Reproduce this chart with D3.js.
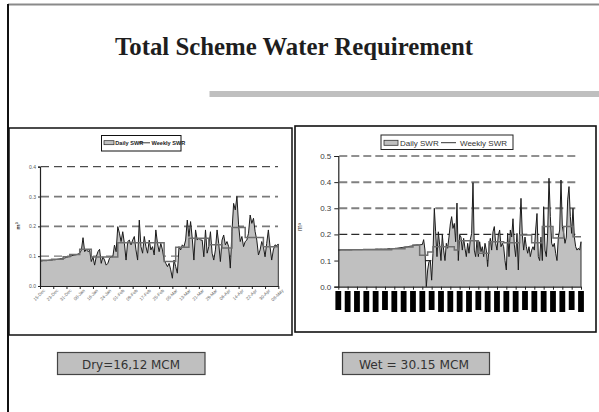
<!DOCTYPE html>
<html>
<head>
<meta charset="utf-8">
<script src="https://cdn.jsdelivr.net/npm/d3@7"></script>
<style>
  html, body { margin: 0; padding: 0; background: #fff; }
  svg { display: block; }
</style>
</head>
<body>
<svg id="slide" width="599" height="412"></svg>
<script>
// ---------- Dry season: daily and weekly scheme water requirement (m3/s) ----------
const dryDaily = [
  0.084,0.084,0.085,0.085,0.085,0.086,0.087,0.087,0.088,0.088,0.089,0.090,0.091,0.092,0.093,0.094,0.096,0.098,0.100,0.101,0.103,0.104,0.105,0.107,
  0.110,0.120,0.162,0.115,0.123,0.115,0.120,0.082,0.098,0.070,0.098,0.115,0.123,0.076,0.098,0.087,0.070,0.076,0.093,0.098,0.098,0.137,0.115,0.199,
  0.177,0.149,0.182,0.143,0.087,0.149,0.154,0.138,0.154,0.166,0.121,0.087,0.221,0.132,0.110,0.166,0.132,0.110,0.154,0.121,0.132,0.104,0.188,0.143,
  0.115,0.143,0.121,0.087,0.076,0.065,0.076,0.054,0.026,0.087,0.065,0.043,0.132,0.121,0.138,0.132,0.154,0.221,0.166,0.216,0.160,0.087,0.188,0.154,
  0.160,0.154,0.154,0.098,0.188,0.110,0.132,0.182,0.110,0.087,0.121,0.188,0.143,0.082,0.154,0.171,0.138,0.149,0.132,0.060,0.182,0.277,0.255,0.300,
  0.205,0.149,0.166,0.132,0.149,0.154,0.177,0.238,0.210,0.227,0.182,0.154,0.104,0.121,0.149,0.132,0.098,0.143,0.188,0.132,0.087,0.121,0.138,0.135,0.141
];
const dryWeeklyStart = [0, 7, 14, 18, 24, 31, 47, 75, 82, 90, 102, 110, 116, 124, 135];
const dryWeeklyValue = [0.086, 0.090, 0.098, 0.106, 0.123, 0.097, 0.145, 0.082, 0.130, 0.160, 0.138, 0.127, 0.196, 0.163, 0.132];
const dryTickDays = [0, 8, 16, 24, 32, 40, 48, 56, 64, 72, 80, 88, 96, 104, 112, 120, 128, 136, 144];
const dryTickLabels = ["15-Dec","23-Dec","31-Dec","08-Jan","16-Jan","24-Jan","01-Feb","09-Feb","17-Feb","25-Feb",
                       "05-Mar","13-Mar","21-Mar","29-Mar","06-Apr","14-Apr","22-Apr","30-Apr","08-May"];
const dryYTicks = [0, 0.1, 0.2, 0.3, 0.4];

// ---------- Wet season ----------
const wetDaily = [
  0.140,0.140,0.141,0.141,0.141,0.141,0.141,0.141,0.141,0.141,
  0.141,0.142,0.142,0.142,0.142,0.142,0.142,0.142,0.142,0.143,
  0.143,0.143,0.143,0.143,0.143,0.143,0.143,0.143,0.144,0.144,
  0.144,0.144,0.144,0.144,0.144,0.144,0.144,0.145,0.145,0.145,
  0.145,0.146,0.146,0.147,0.147,0.148,0.149,0.149,0.150,0.151,
  0.151,0.152,0.153,0.154,0.155,0.156,0.157,0.158,0.159,0.160,
  0.160,0.160,0.161,0.161,0.180,
  0.140,0.000,0.064,0.096,0.100,0.025,0.128,0.300,0.210,0.115,
  0.210,0.160,0.100,0.198,0.140,0.100,0.166,0.147,0.190,0.240,
  0.268,0.223,0.242,0.172,0.320,0.100,0.198,0.190,0.140,0.185,
  0.147,0.115,0.166,0.128,0.180,0.204,0.398,0.140,0.115,0.178,
  0.115,0.172,0.134,0.153,0.115,0.166,0.140,0.077,0.153,0.185,
  0.140,0.210,0.230,0.166,0.140,0.198,0.217,0.153,0.166,0.153,
  0.100,0.064,0.204,0.115,0.217,0.190,0.260,0.160,0.115,0.204,
  0.064,0.217,0.338,0.198,0.140,0.190,0.153,0.128,0.153,0.115,
  0.140,0.153,0.140,0.217,0.280,0.115,0.100,0.190,0.100,0.306,
  0.140,0.115,0.204,0.415,0.268,0.166,0.153,0.166,0.128,0.100,
  0.190,0.217,0.408,0.230,0.204,0.166,0.190,0.332,0.383,0.268,
  0.204,0.300,0.190,0.153,0.140,0.147,0.140,0.172
];
const wetWeeklyStart = [0, 40, 50, 56, 61, 67, 71, 87, 90, 105, 113, 124, 136, 145, 153, 161, 169, 176];
const wetWeeklyValue = [0.141, 0.145, 0.152, 0.160, 0.120, 0.133, 0.153, 0.140, 0.176, 0.128, 0.172, 0.168, 0.198, 0.168, 0.230, 0.186, 0.230, 0.191];
const wetTickDays = [0,7,14,21,28,35,42,49,56,63,70,77,84,91,98,105,112,119,126,133,140,147,154,161,168,175,182];
const wetYTicks = [0, 0.1, 0.2, 0.3, 0.4, 0.5];

const totals = [
  { label: "Dry=16,12 MCM" },
  { label: "Wet = 30.15 MCM" }
];

const svg = d3.select("#slide");

// ---------- slide frame, title and rule ----------
svg.append("line").attr("x1", 8).attr("x2", 599).attr("y1", 4.5).attr("y2", 4.5)
  .attr("stroke", "#8a8a8a").attr("stroke-width", 2);
svg.append("line").attr("x1", 8).attr("x2", 8).attr("y1", 4).attr("y2", 412)
  .attr("stroke", "#111").attr("stroke-width", 2);

svg.append("text")
  .attr("x", 294).attr("y", 55)
  .attr("text-anchor", "middle")
  .attr("font-family", "'Liberation Serif', 'Times New Roman', serif")
  .attr("font-weight", "bold").attr("font-size", 26)
  .attr("textLength", 358).attr("lengthAdjust", "spacingAndGlyphs")
  .attr("fill", "#1e1e1e")
  .text("Total Scheme Water Requirement");

svg.append("rect").attr("x", 209.5).attr("y", 91).attr("width", 390).attr("height", 6)
  .attr("fill", "#bfbfbf");

// ---------- panels ----------
svg.append("rect").attr("x", 9).attr("y", 128).attr("width", 283).attr("height", 207)
  .attr("fill", "#fff").attr("stroke", "#111").attr("stroke-width", 1.5);
svg.append("rect").attr("x", 295).attr("y", 126).attr("width", 301).attr("height", 206)
  .attr("fill", "#fff").attr("stroke", "#111").attr("stroke-width", 1.6);

// step points for a weekly series
function weeklyPoints(starts, values, lastDay) {
  const pts = starts.map((s, k) => ({ d: s, v: values[k] }));
  pts.push({ d: lastDay, v: values[values.length - 1] });
  return pts;
}

// ---------- generic chart drawer ----------
function drawChart(opt) {
  const g = svg.append("g");
  const x = d3.scaleLinear().domain([0, opt.lastDay]).range([opt.x0, opt.x1]);
  const y = d3.scaleLinear().domain([0, opt.yMax]).range([opt.y0, opt.y1]);

  // dashed gridlines
  opt.yTicks.filter(t => t > 0).forEach((t, k, arr) => {
    const top = (k === arr.length - 1);
    g.append("line")
      .attr("x1", opt.x0 + 1).attr("x2", opt.gridEnd)
      .attr("y1", y(t)).attr("y2", y(t))
      .attr("stroke", top ? "#222" : opt.gridColor(t))
      .attr("stroke-width", top ? 1 : opt.gridWidth(t))
      .attr("stroke-dasharray", opt.dash);
  });

  const days = opt.daily.map((v, i) => ({ d: i, v }));
  g.append("path").datum(days)
    .attr("d", d3.area().x(p => x(p.d)).y0(y(0)).y1(p => y(p.v)))
    .attr("fill", "#c0c0c0");
  g.append("path").datum(days)
    .attr("d", d3.line().x(p => x(p.d)).y(p => y(p.v)))
    .attr("fill", "none").attr("stroke", "#1b1b1b").attr("stroke-width", 1);
  // closing edge of the area at the last day
  g.append("line")
    .attr("x1", x(opt.lastDay)).attr("x2", x(opt.lastDay))
    .attr("y1", y(opt.daily[opt.daily.length - 1])).attr("y2", y(0))
    .attr("stroke", "#333").attr("stroke-width", 1);

  g.append("path").datum(weeklyPoints(opt.wStart, opt.wValue, opt.lastDay))
    .attr("d", d3.line().curve(d3.curveStepAfter).x(p => x(p.d)).y(p => y(p.v)))
    .attr("fill", "none").attr("stroke", "#6e6e6e").attr("stroke-width", 1.5);

  // axes
  const ya = g.append("g").attr("transform", `translate(${opt.x0},0)`)
    .call(d3.axisLeft(y).tickValues(opt.yTicks).tickSize(opt.yTickSize).tickPadding(opt.yPad)
      .tickFormat(d3.format(".1f")));
  ya.select(".domain").attr("stroke", "#222").attr("stroke-width", 1.2);
  ya.selectAll(".tick line").attr("stroke", "#222");
  ya.selectAll("text").attr("font-family", opt.font).attr("font-size", opt.yFont).attr("fill", opt.yColor);

  const xa = g.append("g").attr("transform", `translate(0,${opt.y0})`)
    .call(d3.axisBottom(x).tickValues(opt.xTicks).tickSize(3).tickSizeOuter(0)
      .tickFormat((d, i) => opt.xLabels ? opt.xLabels[i] : ""));
  xa.select(".domain").attr("stroke", "#222").attr("stroke-width", 1.2);
  xa.selectAll(".tick line").attr("stroke", "#222");
  if (opt.xLabels) {
    xa.selectAll("text")
      .attr("font-family", opt.font).attr("font-size", 4.5).attr("fill", "#666")
      .attr("text-anchor", "end")
      .attr("transform", "translate(1,1) rotate(-45)")
      .attr("dy", "0.35em").attr("y", 4);
  }
  return { g, x, y };
}

// ---------- dry season chart ----------
const dry = drawChart({
  daily: dryDaily, wStart: dryWeeklyStart, wValue: dryWeeklyValue,
  lastDay: 144, x0: 40, x1: 278.3, y0: 286, y1: 166.7, yMax: 0.4,
  gridEnd: 278, yTicks: dryYTicks, xTicks: dryTickDays, xLabels: dryTickLabels,
  dash: "8,5", gridColor: () => "#7a7a7a", gridWidth: t => (t < 0.15 ? 1.2 : 1.8),
  yTickSize: 2, yPad: 2, yFont: 5, yColor: "#555",
  font: "'Liberation Sans Narrow', 'Liberation Sans', Arial, sans-serif"
});
svg.append("text")
  .attr("transform", "translate(20,226) rotate(-90)")
  .attr("text-anchor", "middle")
  .attr("font-family", "'Liberation Sans', Arial, sans-serif")
  .attr("font-size", 6).attr("font-weight", "bold").attr("fill", "#333")
  .text("m³");

// dry legend
const dl = svg.append("g").attr("font-family", "'Liberation Sans Narrow', 'Liberation Sans', Arial, sans-serif")
  .attr("font-weight", "bold").attr("font-size", 5.6).attr("fill", "#222");
dl.append("rect").attr("x", 101.5).attr("y", 135.5).attr("width", 79.5).attr("height", 15.5)
  .attr("fill", "#fff").attr("stroke", "#111").attr("stroke-width", 1);
dl.append("rect").attr("x", 104).attr("y", 140.7).attr("width", 10).attr("height", 4)
  .attr("fill", "#c0c0c0").attr("stroke", "#222").attr("stroke-width", 0.7);
dl.append("text").attr("x", 115.3).attr("y", 145).text("Daily SWR");
dl.append("line").attr("x1", 139).attr("x2", 150).attr("y1", 142.8).attr("y2", 142.8)
  .attr("stroke", "#222").attr("stroke-width", 0.9);
dl.append("text").attr("x", 151.5).attr("y", 145).text("Weekly SWR");

// ---------- wet season chart ----------
const wet = drawChart({
  daily: wetDaily, wStart: wetWeeklyStart, wValue: wetWeeklyValue,
  lastDay: 182, x0: 338.3, x1: 581, y0: 286.7, y1: 156, yMax: 0.5,
  gridEnd: 577, yTicks: wetYTicks, xTicks: wetTickDays, xLabels: null,
  dash: "8,4", gridColor: t => (t < 0.25 ? "#2a2a2a" : "#808080"), gridWidth: t => (t < 0.25 ? 1.2 : 2),
  yTickSize: 4, yPad: 3, yFont: 8, yColor: "#3a3a3a",
  font: "'Liberation Sans', Arial, sans-serif"
});
// date labels beneath the wet-season axis print as solid blocks
wet.g.append("g").selectAll("rect").data(wetTickDays).join("rect")
  .attr("x", d => wet.x(d) - 2.9).attr("y", 291)
  .attr("width", 5.8).attr("height", (d, i) => (i % 5 === 0 ? 19 : 21))
  .attr("fill", "#000");
svg.append("text")
  .attr("transform", "translate(302,227) rotate(-90)")
  .attr("text-anchor", "middle")
  .attr("font-family", "'Liberation Sans', Arial, sans-serif")
  .attr("font-size", 7).attr("fill", "#333")
  .text("m³");

// wet legend
const wl = svg.append("g").attr("font-family", "'Liberation Sans', Arial, sans-serif")
  .attr("font-size", 8).attr("fill", "#333");
wl.append("rect").attr("x", 381).attr("y", 135).attr("width", 132).attr("height", 14.5)
  .attr("fill", "#fff").attr("stroke", "#222").attr("stroke-width", 1);
wl.append("rect").attr("x", 384).attr("y", 140.3).attr("width", 14).attr("height", 5)
  .attr("fill", "#c0c0c0").attr("stroke", "#333").attr("stroke-width", 0.8);
wl.append("text").attr("x", 400).attr("y", 145.6).text("Daily SWR");
wl.append("line").attr("x1", 441).attr("x2", 456).attr("y1", 142.7).attr("y2", 142.7)
  .attr("stroke", "#333").attr("stroke-width", 1);
wl.append("text").attr("x", 460).attr("y", 145.6).text("Weekly SWR");

// ---------- seasonal totals ----------
const boxes = [
  { x: 57.5, w: 147.5, tx: 131, tw: 98 },
  { x: 342.5, w: 147, tx: 414, tw: 110 }
];
totals.forEach((t, k) => {
  const b = boxes[k];
  svg.append("rect").attr("x", b.x).attr("y", 352.5).attr("width", b.w).attr("height", 22)
    .attr("fill", "#bfbfbf").attr("stroke", "#444").attr("stroke-width", 1.2);
  svg.append("text").attr("x", b.tx).attr("y", 368.5)
    .attr("text-anchor", "middle")
    .attr("font-family", "'DejaVu Sans', Verdana, sans-serif").attr("font-size", 13)
    .attr("textLength", b.tw).attr("lengthAdjust", "spacingAndGlyphs")
    .attr("fill", "#333")
    .text(t.label);
});
</script>
</body>
</html>
